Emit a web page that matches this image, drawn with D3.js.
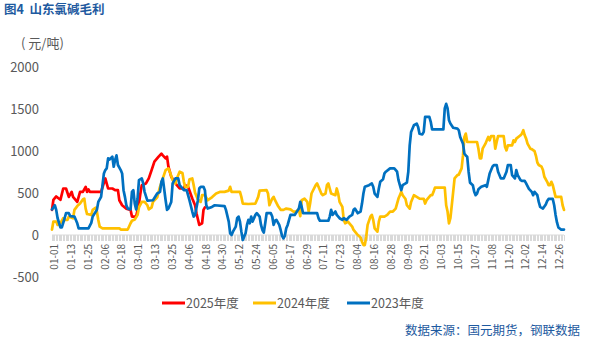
<!DOCTYPE html>
<html>
<head>
<meta charset="utf-8">
<script src="https://cdn.jsdelivr.net/npm/d3@7/dist/d3.min.js"></script>
<style>
  html, body { margin: 0; padding: 0; background: #fff; }
  svg { display: block; font-family: "Noto Sans CJK SC", "Noto Sans", sans-serif; }
</style>
</head>
<body>
<svg id="chart" width="590" height="345"></svg>
<script>
// ---- data (2025 / 2024 / 2023 seasons, yuan per tonne, by calendar day) ----
const dates2025 = ["01-01","01-02","01-04","01-07","01-09","01-11","01-13","01-15","01-16","01-19","01-21","01-23","01-25","01-26","01-27","01-28","02-05","02-08","02-10","02-13","02-15","02-17","02-18","02-20","02-23","02-26","02-27","03-01","03-03","03-04","03-05","03-08","03-10","03-12","03-14","03-17","03-19","03-20","03-22","03-23","03-24","03-26","03-30","04-01","04-04","04-05","04-07","04-10","04-12","04-13","04-15","04-17","04-18","04-19"];
const values2025 = [300,420,460,420,555,555,455,515,455,395,515,515,575,515,545,515,515,675,555,555,535,535,415,355,315,300,220,220,375,495,595,615,675,775,875,935,970,950,915,935,815,695,595,555,555,595,575,435,355,260,120,140,300,330];

const dates2024 = ["01-01","01-02","01-04","01-05","01-07","01-09","01-10","01-12","01-13","01-16","01-17","01-19","01-21","01-23","01-24","01-25","01-26","01-29","01-30","02-01","02-02","02-03","02-04","02-06","02-18","02-19","02-24","02-26","02-27","02-29","03-02","03-03","03-05","03-07","03-09","03-10","03-12","03-13","03-16","03-18","03-20","03-22","03-24","03-25","03-27","03-29","03-30","04-01","04-03","04-04","04-05","04-07","04-08","04-10","04-11","04-12","04-14","04-16","04-17","04-19","04-21","04-24","04-27","04-30","05-03","05-06","05-07","05-08","05-14","05-15","05-16","05-20","05-25","05-26","05-27","05-28","06-02","06-03","06-04","06-06","06-07","06-08","06-10","06-12","06-14","06-16","06-19","06-21","06-23","06-25","06-26","06-27","06-29","07-01","07-02","07-03","07-04","07-07","07-08","07-09","07-11","07-12","07-14","07-15","07-16","07-17","07-18","07-21","07-22","07-23","07-24","07-26","07-27","07-28","07-30","07-31","08-02","08-03","08-05","08-06","08-08","08-09","08-10","08-11","08-12","08-13","08-15","08-16","08-17","08-18","08-20","08-21","08-22","08-25","08-27","08-29","08-31","09-02","09-03","09-04","09-05","09-06","09-07","09-09","09-10","09-12","09-13","09-15","09-17","09-19","09-22","09-23","09-24","09-27","09-28","09-29","09-30","10-07","10-08","10-09","10-10","10-11","10-12","10-13","10-14","10-16","10-17","10-19","10-20","10-21","10-22","10-23","10-30","10-31","11-01","11-02","11-03","11-05","11-06","11-07","11-08","11-09","11-11","11-12","11-13","11-14","11-18","11-19","11-20","11-21","11-24","11-25","11-26","11-27","11-30","12-01","12-02","12-03","12-04","12-05","12-07","12-08","12-10","12-11","12-12","12-13","12-15","12-16","12-17","12-19","12-20","12-21","12-22","12-23","12-25","12-29","12-30","12-31"];
const values2024 = [65,160,160,120,140,200,180,180,220,200,300,345,375,425,435,315,250,240,300,325,280,180,100,80,80,65,65,140,170,185,240,330,395,395,355,305,330,395,450,575,675,775,795,755,655,615,675,755,740,635,575,575,665,675,595,505,425,395,475,475,415,450,495,515,515,530,575,515,515,455,375,370,375,415,455,530,535,495,355,435,455,415,350,300,300,315,305,280,280,305,225,415,435,395,280,375,495,595,615,575,495,475,495,595,615,555,495,475,555,495,395,335,180,140,160,140,100,60,20,0,-30,-80,-120,-120,-20,120,220,240,180,80,40,160,220,220,240,280,280,315,375,435,475,515,475,430,355,315,395,475,455,435,430,375,415,475,475,515,565,565,355,280,140,200,355,515,675,715,720,795,950,1170,1210,1110,1110,1030,915,915,1030,1090,1130,1170,1130,1180,1180,1030,1110,1180,1180,1050,1010,1070,1070,1130,1110,1150,1190,1210,1250,1190,1150,1090,1030,1025,1000,945,865,835,815,775,695,635,595,595,635,595,455,455,355,300];

const dates2023 = ["01-01","01-03","01-04","01-05","01-07","01-08","01-10","01-11","01-13","01-14","01-17","01-19","01-20","01-27","01-29","01-30","02-02","02-03","02-05","02-07","02-08","02-09","02-10","02-11","02-13","02-14","02-15","02-16","02-17","02-19","02-20","02-21","02-22","02-23","02-24","02-26","02-27","02-28","02-29","03-01","03-02","03-03","03-05","03-06","03-07","03-09","03-13","03-16","03-18","03-19","03-20","03-22","03-23","03-24","03-26","03-27","03-29","03-31","04-01","04-04","04-06","04-08","04-10","04-11","04-12","04-14","04-15","04-16","04-18","04-19","04-20","04-21","04-24","04-26","05-03","05-04","05-06","05-07","05-08","05-09","05-11","05-12","05-13","05-14","05-15","05-16","05-18","05-19","05-20","05-21","05-22","05-23","05-25","05-26","05-28","05-29","05-30","05-31","06-01","06-02","06-05","06-06","06-07","06-08","06-09","06-11","06-12","06-13","06-14","06-15","06-16","06-17","06-19","06-22","06-25","06-26","06-27","06-28","07-08","07-09","07-10","07-16","07-17","07-18","07-19","07-21","07-22","07-24","07-26","07-27","07-29","07-31","08-02","08-03","08-04","08-06","08-08","08-09","08-10","08-11","08-14","08-16","08-17","08-18","08-20","08-21","08-22","08-24","08-25","08-26","08-29","09-01","09-03","09-04","09-05","09-06","09-07","09-10","09-11","09-12","09-13","09-15","09-17","09-18","09-19","09-21","09-22","09-23","09-26","09-27","09-28","10-06","10-07","10-08","10-09","10-10","10-11","10-13","10-16","10-17","10-18","10-20","10-21","10-22","10-23","10-24","10-25","10-27","10-28","10-29","10-30","10-31","11-02","11-05","11-06","11-07","11-08","11-10","11-11","11-13","11-14","11-16","11-18","11-20","11-21","11-23","11-24","11-26","11-27","11-28","11-30","12-01","12-03","12-04","12-06","12-08","12-09","12-10","12-12","12-13","12-14","12-16","12-18","12-19","12-20","12-23","12-24","12-25","12-26","12-27","12-29","12-31"];
const values2023 = [305,355,300,200,90,90,200,260,260,225,220,140,80,80,145,220,300,395,455,735,775,795,915,900,935,815,895,950,835,775,735,535,455,355,315,305,515,535,375,305,435,655,675,615,515,410,415,495,515,635,675,415,300,315,395,615,675,675,595,535,535,415,280,220,240,415,555,575,575,535,355,315,335,355,345,300,160,20,0,40,100,200,220,160,40,-60,20,120,180,140,220,160,240,260,220,120,60,30,140,260,260,220,120,170,180,120,60,-10,-40,-10,80,120,240,240,315,395,335,260,260,200,170,170,220,300,240,280,240,200,180,200,180,220,240,300,315,260,280,375,495,575,595,615,575,495,455,555,635,665,735,755,795,795,755,655,595,535,595,625,755,1070,1230,1310,1330,1290,1210,1200,1230,1410,1410,1350,1260,1260,1510,1565,1510,1370,1330,1280,1270,1250,1170,1090,970,950,935,755,625,595,515,475,495,545,575,595,575,655,735,815,835,835,755,675,675,755,835,835,715,675,775,715,655,645,645,615,550,515,475,515,475,395,335,315,365,405,430,430,355,240,150,90,65,65];

const seriesNames = ["2025年度", "2024年度", "2023年度"];
const seriesColors = ["#FF0000", "#FFC000", "#0070C0"];
const tickLabels = ["01-01","01-13","01-25","02-06","02-18","03-01","03-13","03-25","04-06","04-18","04-30","05-12","05-24","06-05","06-17","06-29","07-11","07-23","08-04","08-16","08-28","09-09","09-21","10-03","10-15","10-27","11-08","11-20","12-02","12-14","12-26"];
const yTicks = [-500, 0, 500, 1000, 1500, 2000];

// ---- helpers ----
// Seasons are laid on a common calendar (leap-year so Feb 29 has a slot).
const parseDay = s => { const [m, d] = s.split("-").map(Number); return new Date(2024, m - 1, d); };
const zip = (ds, vs) => ds.map((d, i) => ({ date: parseDay(d), value: vs[i] }));

const series = [
  { name: seriesNames[0], color: seriesColors[0], points: zip(dates2025, values2025) },
  { name: seriesNames[1], color: seriesColors[1], points: zip(dates2024, values2024) },
  { name: seriesNames[2], color: seriesColors[2], points: zip(dates2023, values2023) }
];

const svg = d3.select("#chart");
const textGrey = "#595959";
const titleBlue = "#1E5AA0";

const x = d3.scaleTime()
  .domain([new Date(2024, 0, 1), new Date(2024, 11, 31)])
  .range([52, 564]);
const y = d3.scaleLinear().domain([-500, 2000]).range([276.9, 67.4]);

// title
svg.append("text")
  .attr("x", 4).attr("y", 14)
  .style("white-space", "pre")
  .attr("font-size", 12.5).attr("font-weight", "bold")
  .attr("fill", titleBlue)
  .text("图4  山东氯碱毛利");

// unit
svg.append("text")
  .attr("x", 21).attr("y", 48)
  .style("white-space", "pre")
  .attr("font-size", 13).attr("fill", textGrey)
  .text("( 元/吨)");

// y axis labels
svg.append("g").selectAll("text")
  .data(yTicks).join("text")
  .attr("x", 39).attr("y", d => y(d))
  .attr("dy", "0.36em")
  .attr("text-anchor", "end")
  .attr("font-size", 13).attr("fill", textGrey)
  .text(d => d);

// x axis at zero with a dense row of daily tick marks
const axisY = y(0);
const days = d3.timeDay.range(new Date(2024, 0, 1), new Date(2025, 0, 1));
svg.append("g").selectAll("line")
  .data(days).join("line")
  .attr("x1", d => x(d)).attr("x2", d => x(d))
  .attr("y1", axisY).attr("y2", axisY + 6)
  .attr("stroke", "#d9d9d9").attr("stroke-width", 1)
  .attr("shape-rendering", "crispEdges");
svg.append("line")
  .attr("x1", x(days[0])).attr("x2", x(days[days.length - 1]))
  .attr("y1", axisY).attr("y2", axisY)
  .attr("stroke", "#d9d9d9").attr("stroke-width", 1);

// x labels, rotated
svg.append("g").selectAll("text")
  .data(tickLabels).join("text")
  .attr("transform", d => `translate(${x(parseDay(d)) + 2.5},${axisY + 9}) rotate(-90)`)
  .attr("dy", "0.36em")
  .attr("text-anchor", "end")
  .attr("font-size", 10).attr("fill", textGrey)
  .text(d => d);

// series lines
const line = d3.line().x(d => x(d.date)).y(d => y(d.value));
svg.append("g").selectAll("path")
  .data(series).join("path")
  .attr("d", d => line(d.points))
  .attr("fill", "none")
  .attr("stroke", d => d.color)
  .attr("stroke-width", 2.7)
  .attr("stroke-linejoin", "round")
  .attr("stroke-linecap", "round");

// legend
const legendX = [162, 253, 347];
const legend = svg.append("g").selectAll("g")
  .data(series).join("g")
  .attr("transform", (d, i) => `translate(${legendX[i]},303)`);
legend.append("line")
  .attr("x1", 0).attr("x2", 23).attr("y1", 0).attr("y2", 0)
  .attr("stroke", d => d.color).attr("stroke-width", 3);
legend.append("text")
  .attr("x", 24).attr("dy", "0.36em")
  .attr("font-size", 12.5).attr("fill", textGrey)
  .text(d => d.name);

// source note
svg.append("text")
  .attr("x", 580).attr("y", 334.5)
  .attr("text-anchor", "end")
  .attr("font-size", 12.5).attr("fill", titleBlue)
  .text("数据来源：国元期货，钢联数据");
</script>
</body>
</html>
